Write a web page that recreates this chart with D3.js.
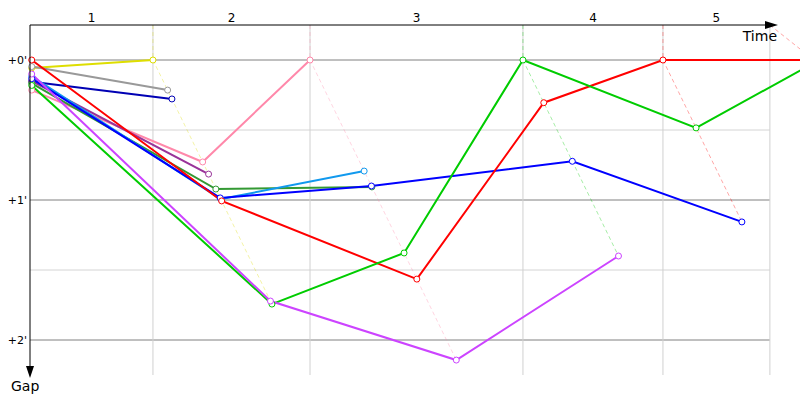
<!DOCTYPE html>
<html lang="en">

<head>
    <meta charset="UTF-8">
    <title>Gap chart</title>
    <script src="https://cdn.jsdelivr.net/npm/d3@7"></script>
    <style>
        body { margin: 0; background: #fff; }
        text { font-family: "DejaVu Sans", sans-serif; }
    </style>
</head>

<body>
    <svg id="main" width="800" height="400"></svg>
    <script>
        // leader crossing time of each lap (s)
        const lapLabels = ["1", "2", "3", "4", "5"];
        const leaderTimes = [108.1, 246.2, 433.4, 556.5, 689.2];
        const gridEnd = 650.5;
        const startTime = 1.5;

        const yMajor = [0, 60, 120];
        const yMinor = [30, 90];
        const yLabels = ["+0'", "+1'", "+2'"];

        const colors = ["#dede00", "#999999", "#0000b4", "#ff88aa", "#993399", "#339933",
            "#1199ee", "#0000ff", "#ff0000", "#00cc00", "#cc44ff"];
        const startGaps = [3.4, 2.8, 9.3, 12.9, 9.0, 10.0, 7.0, 8.0, 0, 10.9, 6.0];
        // gap to leader (s) at the end of lap 1, 2, ...
        const lapGaps = [
            [0],
            [12.9],
            [16.7],
            [43.7, 0],
            [48.9],
            [55.3, 54.4],
            [59.6, 47.6],
            [59.1, 54.0, 43.4, 69.4],
            [60.4, 93.9, 18.3, 0, 0],
            [104.6, 82.7, 0, 29.1, 1.0],
            [103.3, 128.6, 84.0]
        ];

        const svg = d3.select('#main');
        const x = d3.scaleLinear().domain([0, 655]).range([30, 775]);
        const y = d3.scaleLinear().domain([0, 120]).range([60, 340]);
        const yTop = 25, yBottom = 375;
        const xEnd = x(gridEnd);

        // horizontal grid
        svg.selectAll('.hmin').data(yMinor).enter().append('line')
            .attr('x1', x(0)).attr('x2', xEnd)
            .attr('y1', d => y(d)).attr('y2', d => y(d))
            .attr('stroke', '#d4d4d4');
        svg.selectAll('.hmaj').data(yMajor).enter().append('line')
            .attr('x1', x(0)).attr('x2', xEnd)
            .attr('y1', d => y(d)).attr('y2', d => y(d))
            .attr('stroke', '#808080');

        // vertical lap lines
        const bounds = leaderTimes.map(t => Math.min(t, gridEnd));
        svg.selectAll('.vl').data(bounds).enter().append('line')
            .attr('x1', d => x(d)).attr('x2', d => x(d))
            .attr('y1', yTop).attr('y2', yBottom)
            .attr('stroke', '#d0d0d0');

        // lap labels
        const edges = [0].concat(bounds);
        svg.selectAll('.lap').data(lapLabels).enter().append('text')
            .attr('x', (d, i) => (x(edges[i]) + x(edges[i + 1])) / 2)
            .attr('y', 22)
            .attr('text-anchor', 'middle')
            .attr('font-size', 12)
            .text(d => d);

        // y labels
        svg.selectAll('.yl').data(yMajor).enter().append('text')
            .attr('x', 27).attr('y', d => y(d) + 4)
            .attr('text-anchor', 'end')
            .attr('font-size', 11)
            .text((d, i) => yLabels[i]);

        // dashed lap lines through every car crossing the line
        const line = d3.line().x(d => d[0]).y(d => d[1]);
        lapLabels.forEach((lab, k) => {
            const pts = [];
            lapGaps.forEach((g, i) => {
                if (g[k] !== undefined) pts.push({ gap: g[k], c: colors[i] });
            });
            pts.sort((a, b) => a.gap - b.gap);
            const t0 = leaderTimes[k];
            const path = [[Math.min(x(t0), xEnd), yTop]]
                .concat(pts.map(p => [x(t0 + p.gap), y(p.gap)]));
            svg.append('path')
                .attr('d', line(path))
                .attr('fill', 'none')
                .attr('stroke', pts[0].c)
                .attr('stroke-opacity', 0.35)
                .attr('stroke-dasharray', '4,3');
        });

        // car traces
        const traces = lapGaps.map((g, i) => {
            const p = [[x(startTime), y(startGaps[i])]];
            g.forEach((v, k) => p.push([x(leaderTimes[k] + v), y(v)]));
            return p;
        });
        traces.forEach((p, i) => {
            svg.append('path')
                .attr('d', line(p))
                .attr('fill', 'none')
                .attr('stroke', colors[i])
                .attr('stroke-width', 2);
        });
        traces.forEach((p, i) => {
            svg.selectAll(null).data(p).enter().append('circle')
                .attr('cx', d => d[0]).attr('cy', d => d[1])
                .attr('r', 3)
                .attr('fill', '#fff')
                .attr('stroke', colors[i]);
        });

        // axes with arrows
        svg.append('line').attr('x1', x(0)).attr('x2', 770)
            .attr('y1', yTop).attr('y2', yTop).attr('stroke', '#000');
        svg.append('path').attr('d', `M765,${yTop - 4}L778,${yTop}L765,${yTop + 4}Z`);
        svg.append('line').attr('x1', x(0)).attr('x2', x(0))
            .attr('y1', yTop).attr('y2', 370).attr('stroke', '#000');
        svg.append('path').attr('d', `M${x(0) - 4},366L${x(0)},378L${x(0) + 4},366Z`);

        svg.append('text').attr('x', 777).attr('y', 41)
            .attr('text-anchor', 'end').attr('font-size', 14).text('Time');
        svg.append('text').attr('x', 11).attr('y', 391)
            .attr('font-size', 14).text('Gap');
    </script>
</body>

</html>
